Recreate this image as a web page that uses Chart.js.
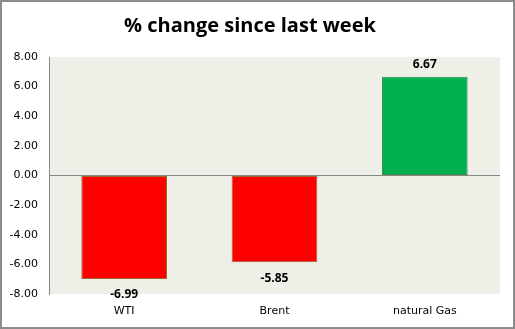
<!DOCTYPE html>
<html>
<head>
<meta charset="utf-8">
<script src="https://cdn.jsdelivr.net/npm/chart.js@4/dist/chart.umd.min.js"></script>
<style>
  html, body { margin: 0; padding: 0; background: #fff; }
  #wrap { width: 515px; height: 329px; position: relative; }
</style>
</head>
<body>
<div id="wrap"><canvas id="oilChart" width="515" height="329"></canvas></div>
<script>
// chart data
const categories = ["WTI", "Brent", "natural Gas"];
const changeValues = [-6.99, -5.85, 6.67];
const yTicks = [-8, -6, -4, -2, 0, 2, 4, 6, 8];

const barColours = changeValues.map((v) => (v < 0 ? "#ff0000" : "#00b050"));
const barBorders = changeValues.map((v) => (v < 0 ? "#9a6b3a" : "#3f8f55"));

// plot background, outer frame and value labels
const extrasPlugin = {
  id: "extras",
  beforeDraw(chart) {
    const c = chart.ctx;
    const a = chart.chartArea;
    c.save();
    c.fillStyle = "#eef0e8";
    c.fillRect(a.left, a.top, a.right - a.left, a.bottom - a.top);
    c.restore();
  },
  afterDraw(chart) {
    const c = chart.ctx;
    c.save();
    c.strokeStyle = "#8c8c8c";
    c.lineWidth = 2;
    c.strokeRect(1, 1, chart.width - 2, chart.height - 2);
    const meta = chart.getDatasetMeta(0);
    c.font = "bold 12px 'Open Sans'";
    c.fillStyle = "#000";
    c.textAlign = "center";
    c.textBaseline = "middle";
    meta.data.forEach((bar, i) => {
      const v = changeValues[i];
      if (v < 0) {
        c.fillText(v.toFixed(2), bar.x, bar.y + 16);
      } else {
        c.fillText(v.toFixed(2), bar.x, bar.y - 12);
      }
    });
    c.restore();
  },
};

const config = {
  type: "bar",
  data: {
    labels: categories,
    datasets: [
      {
        data: changeValues,
        backgroundColor: barColours,
        borderColor: barBorders,
        borderWidth: 1,
        borderSkipped: false,
        categoryPercentage: 0.57,
        barPercentage: 1.0,
      },
    ],
  },
  options: {
    responsive: false,
    animation: false,
    layout: { padding: { left: 0, right: 15, top: 0, bottom: 0 } },
    plugins: {
      legend: { display: false },
      tooltip: { enabled: false },
      title: {
        display: true,
        text: "% change since last week",
        color: "#000",
        font: { family: "'Open Sans'", size: 20, weight: "bold" },
        padding: { top: 14, bottom: 19 },
      },
    },
    scales: {
      x: {
        grid: { display: false, drawTicks: false },
        border: { display: false },
        ticks: {
          color: "#000",
          font: { family: "'DejaVu Sans'", size: 11 },
          padding: 11,
        },
        afterFit(scale) {
          scale.height = 35;
        },
      },
      y: {
        min: -8,
        max: 8,
        afterBuildTicks(scale) {
          scale.ticks = yTicks.map((v) => ({ value: v }));
        },
        grid: {
          drawTicks: false,
          color: (ctx) => (ctx.tick && ctx.tick.value === 0 ? "#868686" : "rgba(0,0,0,0)"),
          lineWidth: 1,
        },
        border: { display: true, color: "#868686", width: 1 },
        ticks: {
          color: "#000",
          font: { family: "'DejaVu Sans'", size: 11 },
          padding: 11,
          callback: (v) => Number(v).toFixed(2),
        },
        afterFit(scale) {
          scale.width = 49;
        },
      },
    },
  },
  plugins: [extrasPlugin],
};

window.onload = function () {
  const ctx = document.getElementById("oilChart").getContext("2d");
  window.oilChart = new Chart(ctx, config);
};
</script>
</body>
</html>
